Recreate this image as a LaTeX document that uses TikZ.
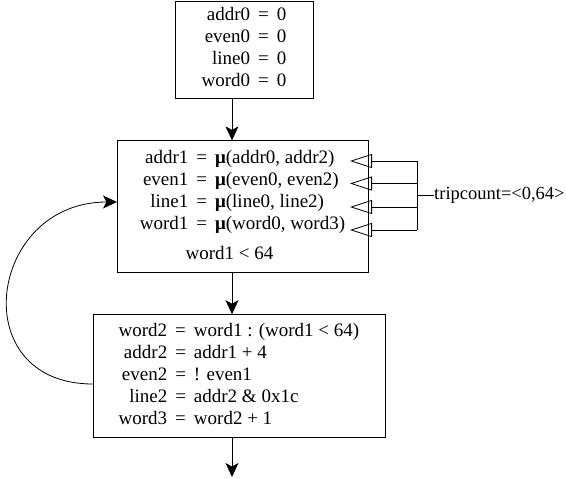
\documentclass[tikz,border=0pt]{standalone}
\usepackage{fontspec}
\setmainfont{Liberation Serif}
\usetikzlibrary{positioning, arrows.meta}
\tikzset{
    block/.style = {
        rectangle,
        draw,
        line width=0.8pt,
        inner sep=0pt,
        align=center,
        font=\fontsize{19}{22}\selectfont
    },
    arrow/.style = {-{Stealth[length=14pt, width=13pt, inset=3.5pt]}, line width=0.8pt},
    phi/.style   = {-{Triangle[open, length=22pt, width=14pt]}, line width=0.8pt},
    wire/.style  = {line width=0.8pt}
}
\newcommand{\mufn}{\textbf{μ}}
\newcommand{\eqsep}{\hspace{8pt}=\hspace{8pt}}

\begin{document}
\begin{tikzpicture}[x=1pt, y=-1pt]
\useasboundingbox (0,0) rectangle (566,479);

% Initialisation
\node[block, minimum width=138pt, minimum height=97pt] (init) at (244,49.5) {%
\begin{tabular}{@{}r@{\eqsep}l@{}}
addr0 & 0\\
even0 & 0\\
line0 & 0\\
word0 & 0
\end{tabular}};

% En-tete de boucle
\node[block, below=42pt of init, xshift=-1.5pt, minimum width=251pt, minimum height=132pt] (head) {%
\begin{tabular}{@{}r@{\eqsep}l@{}}
addr1 & \mufn(addr0, addr2)\\
even1 & \mufn(even0, even2)\\
line1 & \mufn(line0, line2)\\
word1 & \mufn(word0, word3)\\[8pt]
\multicolumn{2}{@{}c@{}}{word1 < 64\hspace{26pt}\mbox{}}
\end{tabular}};

% Corps de boucle
\node[block, below=41pt of head, xshift=-3.5pt, minimum width=292pt, minimum height=123pt] (body) {%
\begin{tabular}{@{}r@{\eqsep}l@{}}
word2 & word1 : (word1 < 64)\\
addr2 & addr1 + 4\\
even2 & ! even1\\
line2 & addr2 \& 0x1c\\
word3 & word2 + 1
\end{tabular}};

\coordinate (exit) at (232,477);

\draw[arrow] (init.south -| exit) -- (head.north -| exit);
\draw[arrow] (head.south -| exit) -- (body.north -| exit);
\draw[arrow] (body.south -| exit) -- (exit);

% Arc retour
\coordinate (back) at (93,384);
\coordinate (entry) at (117,202);
\draw[arrow] (back) to[out=180, in=180, looseness=1.8] (entry);

% Nombre d'iterations
\foreach \y [count=\i] in {161,183.5,207,230} {
    \coordinate (t\i) at (350,\y);
    \coordinate (b\i) at (417,\y);
}
\node[anchor=west, inner sep=0pt, font=\fontsize{18.5}{22}\selectfont] (trip) at (434,195.5) {tripcount=<0,64>};
\draw[wire] (b1) -- (b4);
\draw[wire] (trip.west -| b1) -- (trip.west);
\foreach \i in {1,...,4}
    \draw[phi] (b\i) -- (t\i);

\end{tikzpicture}
\end{document}
